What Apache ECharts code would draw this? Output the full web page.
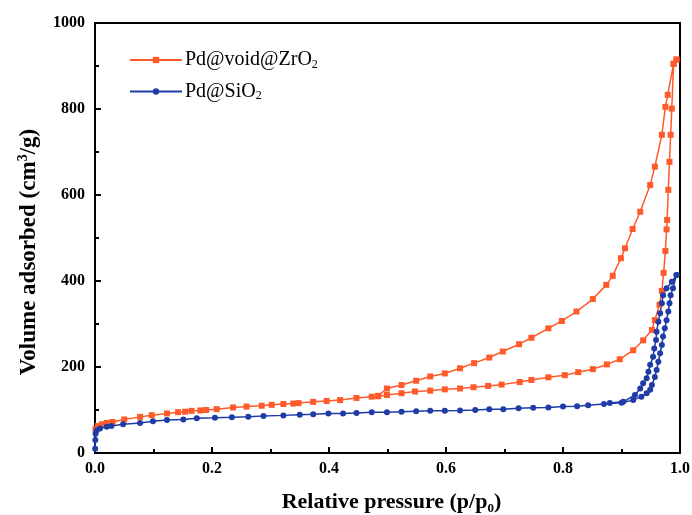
<!DOCTYPE html>
<html><head><meta charset="utf-8">
<script src="https://cdn.jsdelivr.net/npm/echarts@6/dist/echarts.min.js"></script>
<style>html,body{margin:0;padding:0;background:#fff}#c{width:692px;height:515px}</style>
</head><body><div id="c"></div>
<script>
const seriesNames = ['Pd@void@ZrO{sub|2}', 'Pd@SiO{sub|2}'];
const xTicks = [0, 0.2, 0.4, 0.6, 0.8, 1.0];
const yTicks = [0, 200, 400, 600, 800, 1000];

const zrAds = [[0.001,56],[0.005,63],[0.012,67],[0.02,70],[0.03,72],[0.05,78],[0.077,84],[0.097,88],[0.123,92],[0.142,95],[0.154,96],[0.165,98],[0.18,99],[0.19,100],[0.208,102],[0.236,106],[0.259,108],[0.285,110],[0.302,112],[0.322,114],[0.339,115],[0.348,116],[0.373,119],[0.396,121],[0.419,123],[0.447,128],[0.473,131],[0.484,132],[0.499,135],[0.524,139],[0.547,143],[0.573,145],[0.598,148],[0.624,150],[0.647,153],[0.672,156],[0.695,159],[0.726,165],[0.746,170],[0.775,176],[0.803,181],[0.826,188],[0.851,195],[0.875,206],[0.897,218],[0.92,239],[0.937,262],[0.952,286],[0.957,309],[0.965,345],[0.969,377],[0.972,419],[0.975,470],[0.977,520],[0.978,542],[0.98,612],[0.982,677],[0.984,740],[0.986,801],[0.989,905],[0.994,915]];
const zrDes = [[0.994,915],[0.989,905],[0.979,833],[0.975,805],[0.969,740],[0.957,666],[0.949,623],[0.932,561],[0.919,521],[0.906,476],[0.899,453],[0.885,412],[0.874,391],[0.851,358],[0.823,329],[0.798,307],[0.775,290],[0.746,268],[0.725,253],[0.697,236],[0.674,222],[0.648,209],[0.624,197],[0.598,185],[0.573,178],[0.549,168],[0.524,158],[0.499,150],[0.484,133]];

const siAds = [[0.0003,10],[0.0006,30],[0.001,45],[0.003,53],[0.0085,57],[0.02,61],[0.028,63],[0.048,67],[0.077,70],[0.099,74],[0.123,77],[0.151,78],[0.174,81],[0.205,82],[0.234,83],[0.262,84.5],[0.288,86],[0.322,87.5],[0.35,89],[0.373,90],[0.399,92],[0.424,92],[0.447,93],[0.473,94.5],[0.499,95],[0.524,96],[0.549,97],[0.573,98],[0.598,98.5],[0.624,99],[0.65,100],[0.674,101.5],[0.698,102],[0.724,104],[0.749,105],[0.775,106],[0.8,108],[0.824,109],[0.843,111],[0.87,114],[0.9,117],[0.92,123],[0.934,131],[0.943,139],[0.949,147],[0.952,158],[0.957,177],[0.96,193],[0.963,212],[0.966,232],[0.969,251],[0.971,271],[0.974,290],[0.977,309],[0.98,329],[0.982,348],[0.984,367],[0.988,383],[0.994,414]];
const siDes = [[0.994,414],[0.986,398],[0.977,383],[0.971,367],[0.969,348],[0.966,325],[0.963,305],[0.96,282],[0.959,263],[0.956,243],[0.954,224],[0.949,205],[0.946,189],[0.943,174],[0.937,162],[0.932,150],[0.923,135],[0.903,119],[0.88,116]];

const FONT = '"Liberation Serif", "Times New Roman", serif';
const chart = echarts.init(document.getElementById('c'));
const orange = '#ff5a2a', blue = '#1f3ca6';
chart.setOption({
  animation: false,
  backgroundColor: '#fff',
  grid: {left: 95, right: 12, top: 23, bottom: 62, show: true, borderColor: '#000', borderWidth: 2,
         containLabel: false, outerBoundsMode: 'none'},
  legend: {
    orient: 'vertical', left: 124, top: 45, itemGap: 11, itemWidth: 52, itemHeight: 8,
    data: [{name: 'zr'}, {name: 'si'}],
    formatter: n => n === 'zr' ? seriesNames[0] : seriesNames[1],
    textStyle: {fontFamily: FONT, fontSize: 20, color: '#000', padding: [0,0,0,-2],
      rich: {sub: {fontFamily: FONT, fontSize: 12, verticalAlign: 'bottom', padding: [9,0,0,0], color: '#000'}}}
  },
  xAxis: {
    type: 'value', min: 0, max: 1, interval: 0.2,
    name: 'Relative pressure (p/p{sub|0})', nameLocation: 'middle', nameGap: 37,
    nameTextStyle: {fontFamily: FONT, fontSize: 22, fontWeight: 'bold', color: '#000', padding: [0,0,0,8],
      rich: {sub: {fontFamily: FONT, fontSize: 13, fontWeight: 'bold', padding: [12,0,0,0], color: '#000'}}},
    axisLine: {lineStyle: {color: '#000', width: 2}},
    axisTick: {inside: true, length: 6, lineStyle: {color: '#000', width: 2}},
    minorTick: {show: true, splitNumber: 2, length: 4, lineStyle: {color: '#000', width: 2}},
    splitLine: {show: false},
    axisLabel: {fontFamily: FONT, fontSize: 16, fontWeight: 'bold', color: '#000', margin: 8,
      formatter: v => v.toFixed(1)}
  },
  yAxis: {
    type: 'value', min: 0, max: 1000, interval: 200,
    name: 'Volume adsorbed (cm{sup|3}/g)', nameLocation: 'middle', nameGap: 53, nameRotate: 90,
    nameTextStyle: {fontFamily: FONT, fontSize: 23, fontWeight: 'bold', color: '#000', padding: [0,28,0,0],
      rich: {sup: {fontFamily: FONT, fontSize: 14, fontWeight: 'bold', padding: [0,0,12,0], color: '#000'}}},
    axisLine: {show: true, lineStyle: {color: '#000', width: 2}},
    axisTick: {show: true, inside: true, length: 6, lineStyle: {color: '#000', width: 2}},
    minorTick: {show: true, splitNumber: 2, length: 4, lineStyle: {color: '#000', width: 2}},
    splitLine: {show: false},
    axisLabel: {fontFamily: FONT, fontSize: 16, fontWeight: 'bold', color: '#000', margin: 10,
      formatter: v => String(v)}
  },
  series: [
    {name: 'zr', type: 'line', data: zrAds.concat(zrDes), color: orange, symbol: 'rect', symbolSize: 6,
     lineStyle: {width: 1.5, color: orange}, itemStyle: {color: orange}},
    {name: 'si', type: 'line', data: siAds.concat(siDes), color: blue, symbol: 'circle', symbolSize: 6,
     lineStyle: {width: 1.5, color: blue}, itemStyle: {color: blue}}
  ]
});
</script></body></html>
